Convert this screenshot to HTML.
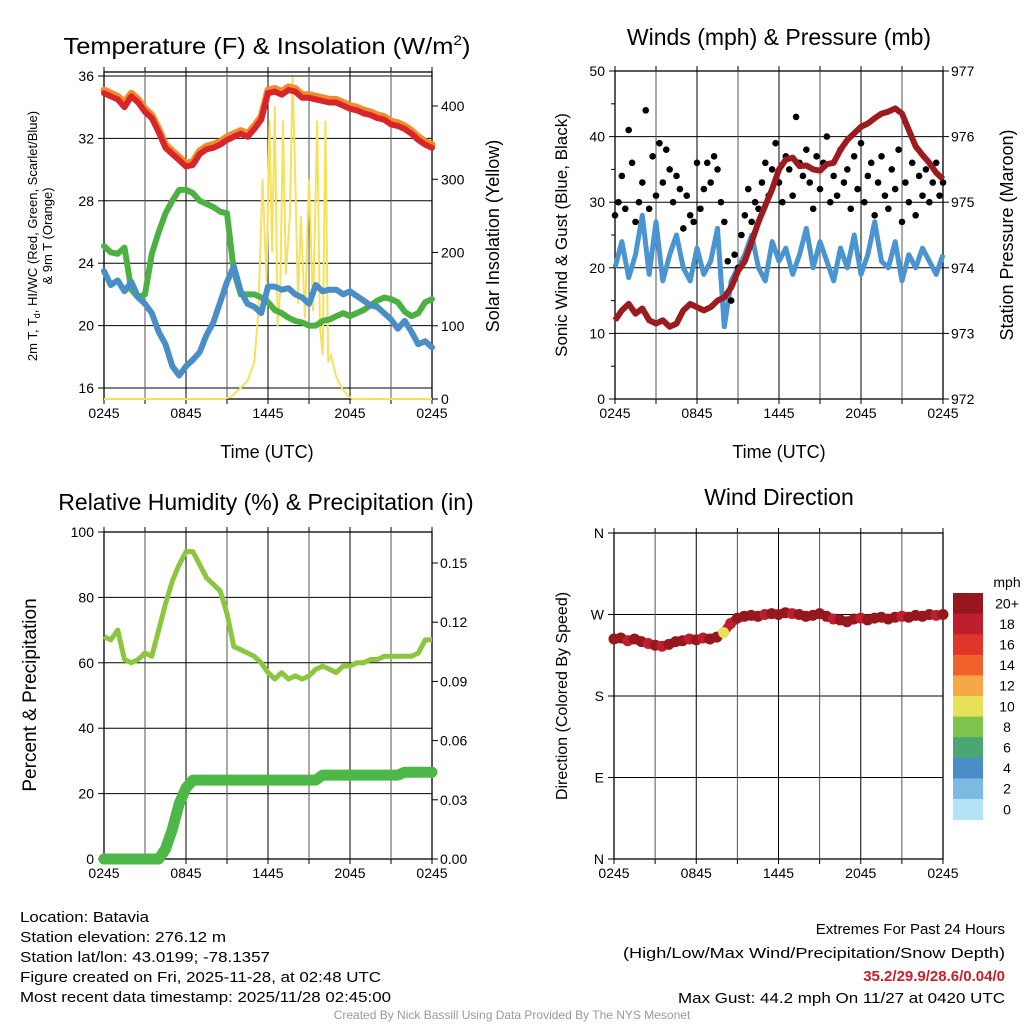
<!DOCTYPE html>
<html><head><meta charset="utf-8"><style>
html,body{margin:0;padding:0;background:#fff;}
svg{display:block;font-family:"Liberation Sans",Arial,sans-serif;}
</style></head><body>
<svg id="c" width="1024" height="1024" viewBox="0 0 1024 1024" xmlns="http://www.w3.org/2000/svg">
<rect width="1024" height="1024" fill="#fff"/>
<text x="267" y="54" font-size="23" text-anchor="middle" textLength="407" lengthAdjust="spacingAndGlyphs">Temperature (F) &amp; Insolation (W/m<tspan font-size="14" dy="-9">2</tspan><tspan dy="9">)</tspan></text>
<text x="779" y="45" font-size="23" text-anchor="middle">Winds (mph) &amp; Pressure (mb)</text>
<text x="266" y="510" font-size="23" text-anchor="middle">Relative Humidity (%) &amp; Precipitation (in)</text>
<text x="779" y="505" font-size="23" text-anchor="middle">Wind Direction</text>
<g id="layer"></g>
<g font-size="15">
<text x="20" y="922" textLength="129" lengthAdjust="spacingAndGlyphs">Location: Batavia</text>
<text x="20" y="942" textLength="206" lengthAdjust="spacingAndGlyphs">Station elevation: 276.12 m</text>
<text x="20" y="962" textLength="250" lengthAdjust="spacingAndGlyphs">Station lat/lon: 43.0199; -78.1357</text>
<text x="20" y="982" textLength="361" lengthAdjust="spacingAndGlyphs">Figure created on Fri, 2025-11-28, at 02:48 UTC</text>
<text x="20" y="1002" textLength="371" lengthAdjust="spacingAndGlyphs">Most recent data timestamp: 2025/11/28 02:45:00</text>
</g>
<g font-size="15" text-anchor="end">
<text x="1005" y="934">Extremes For Past 24 Hours</text>
<text x="1005" y="958" textLength="382" lengthAdjust="spacingAndGlyphs">(High/Low/Max Wind/Precipitation/Snow Depth)</text>
<text x="1005" y="981" fill="#c8202a" font-weight="bold">35.2/29.9/28.6/0.04/0</text>
<text x="1005" y="1003" textLength="327" lengthAdjust="spacingAndGlyphs">Max Gust: 44.2 mph On 11/27 at 0420 UTC</text>
</g>
<text x="512" y="1019" font-size="12" fill="#999" text-anchor="middle">Created By Nick Bassill Using Data Provided By The NYS Mesonet</text>
</svg>
<script>
// half-hour time steps (hours since 0245)
const hours = [0,0.5,1,1.5,2,2.5,3,3.5,4,4.5,5,5.5,6,6.5,7,7.5,8,8.5,9,9.5,10,10.5,11,11.5,12,12.5,13,13.5,14,14.5,15,15.5,16,16.5,17,17.5,18,18.5,19,19.5,20,20.5,21,21.5,22,22.5,23,23.5,24];
const xTickLabels = ["0245","0845","1445","2045","0245"];
const temp2m = [34.9,34.7,34.5,34.0,34.7,34.3,33.7,33.3,32.4,31.4,31.0,30.6,30.2,30.3,31.0,31.3,31.4,31.6,31.9,32.1,32.3,32.1,32.6,33.2,34.9,35.0,34.8,35.1,35.0,34.6,34.6,34.5,34.4,34.3,34.3,34.1,33.9,33.8,33.6,33.5,33.3,33.2,32.9,32.8,32.6,32.3,31.9,31.6,31.4];
const temp9m = [35.1,34.9,34.7,34.3,34.9,34.5,33.9,33.5,32.6,31.6,31.2,30.8,30.4,30.5,31.2,31.5,31.6,31.8,32.1,32.3,32.5,32.3,32.8,33.4,35.1,35.2,35.0,35.3,35.2,34.8,34.8,34.7,34.6,34.5,34.5,34.3,34.1,34.0,33.8,33.7,33.5,33.4,33.1,33.0,32.8,32.5,32.1,31.8,31.6];
const dewpoint = [25.1,24.7,24.6,25.0,22.3,21.8,22.0,24.6,26.0,27.2,28.0,28.7,28.7,28.5,28.0,27.8,27.6,27.3,27.2,23.5,22.0,22.0,22.0,21.8,21.5,21.0,20.8,20.5,20.3,20.2,20.0,20.0,20.3,20.4,20.6,20.8,20.6,20.8,21.0,21.3,21.6,21.8,21.7,21.5,20.9,20.6,20.8,21.5,21.7];
const windChill = [23.5,22.6,22.9,22.2,22.8,21.8,21.4,20.8,19.6,18.8,17.4,16.8,17.4,17.8,18.3,19.4,20.2,21.5,22.8,23.8,22.2,21.4,21.2,20.8,22.5,22.5,22.3,22.4,22.0,21.8,21.4,22.6,22.2,22.3,22.3,22.0,22.2,21.9,21.6,21.3,21.2,20.8,20.4,19.8,20.3,19.6,18.8,19.0,18.6];
const insolHours = [0,8.8,9.3,10,10.5,11,11.3,11.6,11.9,12.1,12.3,12.5,12.7,12.9,13.1,13.3,13.6,13.8,14.0,14.2,14.4,14.7,15.0,15.3,15.6,15.8,16.0,16.2,16.4,16.6,17.0,17.4,17.8,18.2,24];
const insolVals = [0,0,3,15,25,50,120,300,160,380,200,400,100,150,380,170,250,440,300,130,250,110,300,120,380,100,60,380,50,60,30,15,5,0,0];
const yLabelsTemp = [16,20,24,28,32,36];
const yLabelsInsol = [0,100,200,300,400];
const windSpeed = [20,24,18.5,22,28,19,27,18,22,25,20,18,23,19,21,26,11,18,20,22,25,20,18,24,21,23,19,22,26,20,24,21,18,23,20,25,19,22,27,21,20,24,18,22,20,23,21,19,22];
const gustHours = Array.from({length:97},(_,i)=>i*0.25);
const gustVals = [28,30,34,29,41,36,27,30,33,44,29,37,31,39,33,38,35,30,34,32,26,31,28,27,36,29,32,36,33,37,35,30,27,21,15,22,20,25,28,32,27,30,29,33,36,31,35,39,33,30,37,35,31,43,36,34,38,33,29,37,32,36,40,30,34,31,38,33,35,29,37,32,39,30,34,36,28,33,37,31,29,35,32,38,27,33,30,36,28,34,31,35,30,33,36,31,33];
const pressure = [973.2,973.35,973.45,973.3,973.38,973.2,973.15,973.2,973.1,973.15,973.35,973.45,973.4,973.35,973.4,973.5,973.55,973.7,973.95,974.1,974.4,974.7,974.95,975.2,975.5,975.65,975.68,975.55,975.56,975.5,975.48,975.58,975.6,975.8,975.95,976.05,976.15,976.2,976.28,976.35,976.38,976.43,976.35,976.1,975.85,975.72,975.6,975.45,975.35];
const yLabelsWind = [0,10,20,30,40,50];
const yLabelsPres = [972,973,974,975,976,977];
const relHum = [68,67,70,61,60,61,63,62,70,78,85,90,94,94,90,86,84,82,75,65,64,63,62,60,57,55,57,55,56,55,56,58,59,58,57,59,59,60,60,61,61,62,62,62,62,62,63,67,67];
const precip = [0,0,0,0,0,0,0,0,0,0.005,0.015,0.028,0.036,0.04,0.04,0.04,0.04,0.04,0.04,0.04,0.04,0.04,0.04,0.04,0.04,0.04,0.04,0.04,0.04,0.04,0.04,0.04,0.0425,0.0425,0.0425,0.0425,0.0425,0.0425,0.0425,0.0425,0.0425,0.0425,0.0425,0.0425,0.044,0.044,0.044,0.044,0.044];
const yLabelsRH = [0,20,40,60,80,100];
const yLabelsPrecip = ["0.00","0.03","0.06","0.09","0.12","0.15"];
const windDir = [243,244,241,243,240,238,236,235,237,240,241,243,242,244,243,245,250,260,266,268,269,268,270,271,270,272,271,270,268,269,271,268,265,264,262,265,266,264,266,267,265,267,268,267,269,268,270,269,270];
const dirLabels = ["N","E","S","W","N"];
const speedBins = ["0","2","4","6","8","10","12","14","16","18","20+"];
const binColors = ["#b4e3f8","#7cb9e3","#4a8ec7","#4aa773","#7ec34c","#e7e15a","#f7a846","#f0622c","#e0352b","#be1e2d","#96171c"];

const NS="http://www.w3.org/2000/svg";
const layer=document.getElementById('layer');
function mk(tag,attrs,parent){const e=document.createElementNS(NS,tag);for(const k in attrs)e.setAttribute(k,attrs[k]);(parent||layer).appendChild(e);return e;}
function xs(L,R){return h=>L+(R-L)*h/24;}
function ys(v0,v1,b,t){return v=>b-(v-v0)/(v1-v0)*(b-t);}
function pathD(xf,yf,xsArr,vs){return vs.map((v,i)=>(i?'L':'M')+xf(xsArr[i]).toFixed(1)+' '+yf(v).toFixed(1)).join(' ');}

function frame(name,L,R,T,B,g){
  const f=mk('rect',{x:L,y:T,width:R-L,height:B-T,fill:'none',stroke:'#000','stroke-width':1.3},g);
  
  
  for(let i=0;i<=8;i++){const x=L+(R-L)*i/8;
    mk('line',{x1:x,y1:T,x2:x,y2:B,stroke:i%2?'#555':'#000','stroke-width':1},g);
    mk('line',{x1:x,y1:B,x2:x,y2:B+5,stroke:'#000'},g);
    mk('line',{x1:x,y1:T,x2:x,y2:T-5,stroke:'#000'},g);}
  xTickLabels.forEach((s,i)=>{const t=mk('text',{x:L+(R-L)*i/4,y:B+19,'font-size':14,'text-anchor':'middle'},g);t.textContent=s;
    
    });
}
function hgrid(L,R,yv,g,labels,vals,side){
  vals.forEach((v,i)=>{const y=yv(v);
    mk('line',{x1:L,y1:y,x2:R,y2:y,stroke:'#000','stroke-width':1},g);
    const x=side==='l'?L:R;
    mk('line',{x1:x,y1:y,x2:side==='l'?x-6:x+6,y2:y,stroke:'#000'},g);
    const t=mk('text',{x:side==='l'?x-10:x+8,y:y+5,'font-size':14,'text-anchor':side==='l'?'end':'start'},g);t.textContent=labels[i];
    
    });
}
function rtext(s,x,y,size,name,g){const t=mk('text',{x:0,y:0,'font-size':size,'text-anchor':'middle',transform:`translate(${x},${y}) rotate(-90)`},g);t.textContent=s;
  
  return t;}

// ---------- Panel 1 ----------
{const L=104,R=432,T=72,B=399;
 const g=mk('g',{});
 const x=xs(L,R), yT=ys(16,36,388,76), yI=ys(0,400,399,106);
 hgrid(L,R,yT,g,yLabelsTemp,yLabelsTemp,'l');
 yLabelsInsol.forEach(v=>{const y=yI(v);mk('line',{x1:R,y1:y,x2:R+6,y2:y,stroke:'#000'},g);const t=mk('text',{x:R+9,y:y+5,'font-size':14},g);t.textContent=v;
   
   });
 frame('temperature-plot',L,R,T,B,g);
 const ins=mk('path',{d:pathD(x,yI,insolHours,insolVals),fill:'none',stroke:'#f7e15a','stroke-width':2},g);
 
 [['dewpoint-line',dewpoint,'#4cb043'],['wind-chill-line',windChill,'#4a8ec7'],['temp-9m-line',temp9m,'#f58a28'],['temp-2m-line',temp2m,'#d7262b']].forEach(([n,arr,c])=>{
   const p=mk('path',{d:pathD(x,yT,hours,arr),fill:'none',stroke:c,'stroke-width':n==='temp-9m-line'?7:6,'stroke-linejoin':'round','stroke-linecap':'round'},g);
   
   });
 const t1=mk('text',{x:267,y:458,'font-size':18,'text-anchor':'middle'},g);t1.textContent='Time (UTC)';
 
 const a=rtext('',37,236,13,'y-axis-title',g);a.innerHTML='2m T, T<tspan font-size="9" dy="3">d</tspan><tspan dy="-3">, HI/WC (Red, Green, Scarlet/Blue)</tspan>';
 rtext('& 9m T (Orange)',52,236,13,'y-axis-title-line2',g);
 rtext('Solar Insolation (Yellow)',499,236,18,'right-axis-title',g);
}
// ---------- Panel 2 ----------
{const L=615,R=943,T=71,B=399;
 const g=mk('g',{});
 const x=xs(L,R), yW=ys(0,50,B,T), yP=ys(972,977,B,T);
 hgrid(L,R,yW,g,yLabelsWind,yLabelsWind,'l');
 for(let v=5;v<50;v+=10){const y=yW(v);mk('line',{x1:L,y1:y,x2:L-4,y2:y,stroke:'#000'},g);}
 yLabelsPres.forEach(v=>{const y=yP(v);mk('line',{x1:R,y1:y,x2:R+6,y2:y,stroke:'#000'},g);const t=mk('text',{x:R+8,y:y+5,'font-size':14},g);t.textContent=v;
   
   });
 frame('wind-plot',L,R,T,B,g);
 const w=mk('path',{d:pathD(x,yW,hours,windSpeed),fill:'none',stroke:'#4a95d0','stroke-width':5,'stroke-linejoin':'round'},g);
 
 gustVals.forEach((v,i)=>{const c=mk('circle',{cx:x(gustHours[i]),cy:yW(v),r:3.3,fill:'#000'},g);
   
   });
 const p=mk('path',{d:pathD(x,yP,hours,pressure),fill:'none',stroke:'#9b1b1f','stroke-width':6,'stroke-linejoin':'round'},g);
 
 const t1=mk('text',{x:779,y:458,'font-size':18,'text-anchor':'middle'},g);t1.textContent='Time (UTC)';
 
 rtext('Sonic Wind & Gust (Blue, Black)',567,235,17,'y-axis-title',g);
 rtext('Station Pressure (Maroon)',1013,235,18,'right-axis-title',g);
}
// ---------- Panel 3 ----------
{const L=104,R=432,T=532,B=859;
 const g=mk('g',{});
 const x=xs(L,R), yR=ys(0,100,B,T), yPr=ys(0,0.15,B,563);
 hgrid(L,R,yR,g,yLabelsRH,yLabelsRH,'l');
 yLabelsPrecip.forEach(s=>{const y=yPr(parseFloat(s));mk('line',{x1:R,y1:y,x2:R+6,y2:y,stroke:'#000'},g);const t=mk('text',{x:R+8,y:y+5,'font-size':14},g);t.textContent=s;
   
   });
 frame('humidity-plot',L,R,T,B,g);
 const pr=mk('path',{d:pathD(x,yPr,hours,precip),fill:'none',stroke:'#4db848','stroke-width':11,'stroke-linecap':'round','stroke-linejoin':'round'},g);
 
 const rh=mk('path',{d:pathD(x,yR,hours,relHum),fill:'none',stroke:'#8cc63f','stroke-width':5,'stroke-linejoin':'round'},g);
 
 rtext('Percent & Precipitation',36,695,19,'y-axis-title',g);
}
// ---------- Panel 4 ----------
{const L=614,R=943,T=533,B=859;
 const g=mk('g',{});
 const x=xs(L,R), yD=ys(0,360,B,T);
 hgrid(L,R,yD,g,dirLabels,[0,90,180,270,360],'l');
 frame('direction-plot',L,R,T,B,g);
 const col=s=>binColors[Math.max(0,Math.min(10,Math.floor(s/2)))];
 for(let i=1;i<windDir.length;i++){mk('line',{x1:x(hours[i-1]),y1:yD(windDir[i-1]),x2:x(hours[i]),y2:yD(windDir[i]),stroke:col(windSpeed[i]),'stroke-width':9,'stroke-linecap':'round'},g);}
 windDir.forEach((d,i)=>{const c=mk('circle',{cx:x(hours[i]),cy:yD(d),r:5.5,fill:col(windSpeed[i])},g);
   
   });
 rtext('Direction (Colored By Speed)',567,696,16,'y-axis-title',g);
 const cb=mk('g',{},g);
 const top=593,bh=20.6;
 speedBins.forEach((s,i)=>{const k=10-i;const y=top+i*bh;
   mk('rect',{x:953,y:y,width:30,height:bh+0.5,fill:binColors[k]},cb);
   const t=mk('text',{x:1007,y:y+bh/2+5,'font-size':14,'text-anchor':'middle'},cb);t.textContent=speedBins[k];
   
   });
 const m=mk('text',{x:1007,y:587,'font-size':14,'text-anchor':'middle'},cb);m.textContent='mph';
 
}
</script>
</body></html>
